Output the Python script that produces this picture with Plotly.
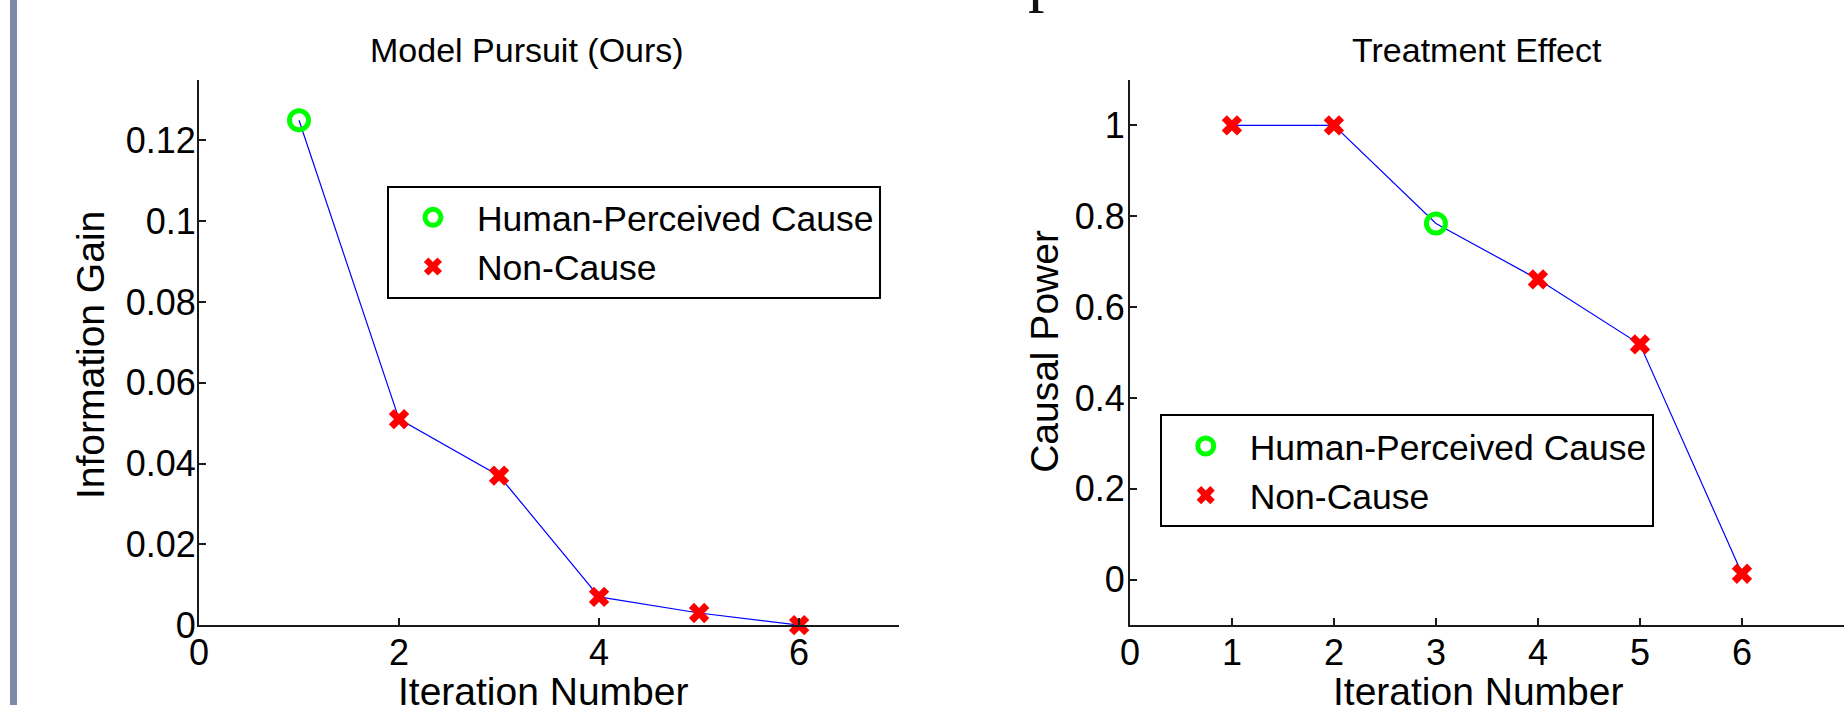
import plotly.graph_objects as go

# ---------------- data ----------------
iterations = [1, 2, 3, 4, 5, 6]
info_gain = [0.125, 0.051, 0.037, 0.007, 0.003, 0.0]
causal_power = [1.0, 1.0, 0.784, 0.661, 0.518, 0.013]
cause_iter_left = [1]      # human-perceived cause (Model Pursuit)
cause_iter_right = [3]     # human-perceived cause (Treatment Effect)
left_yticks = [0, 0.02, 0.04, 0.06, 0.08, 0.1, 0.12]
left_yticklabels = ["0", "0.02", "0.04", "0.06", "0.08", "0.1", "0.12"]
left_xticks = [0, 2, 4, 6]
right_yticks = [0, 0.2, 0.4, 0.6, 0.8, 1]
right_yticklabels = ["0", "0.2", "0.4", "0.6", "0.8", "1"]
right_xticks = [0, 1, 2, 3, 4, 5, 6, 7]
legend_names = ["Human-Perceived Cause", "Non-Cause"]
titles = ["Model Pursuit (Ours)", "Treatment Effect"]
xlabel = "Iteration Number"
ylabels = ["Information Gain", "Causal Power"]

# target picture is 1844 x 706; the captured page is 1844 x 726 tall
TW, TH = 1844, 706
FW, FH = 1844, 726
FONT = "Liberation Sans, Arial, Helvetica, sans-serif"
GREEN = "#00ff00"
RED = "#ff0000"
BLUE = "#0000ff"
AX = "#1a1a1a"


def px(x):
    """target picture x -> paper fraction"""
    return x / TW


def py(y):
    """target picture y -> paper fraction"""
    return 1 - y / TH


fig = go.Figure()


def add_panel(xs, ys, cause_iters, xa, ya, legend):
    fig.add_trace(go.Scatter(x=xs, y=ys, mode="lines", line=dict(color=BLUE, width=1.2),
                             xaxis=xa, yaxis=ya, showlegend=False, hoverinfo="skip"))
    cx = [x for x in xs if x in cause_iters]
    cy = [y for x, y in zip(xs, ys) if x in cause_iters]
    nx = [x for x in xs if x not in cause_iters]
    ny = [y for x, y in zip(xs, ys) if x not in cause_iters]
    fig.add_trace(go.Scatter(x=cx, y=cy, mode="markers", name=legend_names[0],
                             marker=dict(symbol="circle-open", size=19, color=GREEN,
                                         line=dict(color=GREEN, width=5)),
                             xaxis=xa, yaxis=ya, legend=legend, cliponaxis=False))
    fig.add_trace(go.Scatter(x=nx, y=ny, mode="markers", name=legend_names[1],
                             marker=dict(symbol="x", size=18, color=RED, line=dict(width=0)),
                             xaxis=xa, yaxis=ya, legend=legend, cliponaxis=False))


add_panel(iterations, info_gain, cause_iter_left, "x", "y", "legend")
add_panel(iterations, causal_power, cause_iter_right, "x2", "y2", "legend2")

ydom = [py(626), py(80)]
axis_common = dict(showline=True, linecolor=AX, linewidth=2, ticks="inside", ticklen=7,
                   tickwidth=1.5, tickcolor=AX, showgrid=False, zeroline=False,
                   tickfont=dict(family=FONT, size=36, color="black"))

legend_common = dict(xanchor="left", yanchor="top", bgcolor="white", bordercolor="black",
                     borderwidth=2, font=dict(family=FONT, size=35.5, color="black"),
                     itemwidth=78, tracegroupgap=0)

fig.update_layout(
    width=FW, height=FH,
    margin=dict(l=0, r=0, t=0, b=0),
    paper_bgcolor="white", plot_bgcolor="white",
    font=dict(family=FONT, color="black"),
    xaxis=dict(domain=[px(190), px(894)], range=[0, 7], tickvals=left_xticks,
               anchor="y", ticklabelstandoff=-5, **axis_common),
    yaxis=dict(domain=ydom, range=[0, 0.135], tickvals=left_yticks,
               ticktext=left_yticklabels, anchor="x", ticklabelstandoff=-6, **axis_common),
    xaxis2=dict(domain=[px(1126), 1.0], range=[0, 7], tickvals=right_xticks,
                anchor="y2", ticklabelstandoff=-5, **axis_common),
    yaxis2=dict(domain=ydom, range=[-0.1, 1.1], tickvals=right_yticks,
                ticktext=right_yticklabels, anchor="x2", ticklabelstandoff=-4, **axis_common),
    legend=dict(x=px(379), y=py(186), **legend_common),
    legend2=dict(x=px(1156), y=py(415), **legend_common),
    showlegend=True,
)

annotations = [
    dict(text=titles[0], x=px(520), y=py(50), font=dict(size=34)),
    dict(text=titles[1], x=px(1475), y=py(50), font=dict(size=34)),
    dict(text=xlabel, x=px(536), y=py(692), font=dict(size=39)),
    dict(text=xlabel, x=px(1476), y=py(692), font=dict(size=39)),
    dict(text=ylabels[0], x=px(81), y=py(356), font=dict(size=39), textangle=-90),
    dict(text=ylabels[1], x=px(1040), y=py(352), font=dict(size=39), textangle=-90),
]
for a in annotations:
    a.update(xref="paper", yref="paper", showarrow=False, xanchor="center", yanchor="middle")
    a["font"].update(family=FONT, color="black")
# cropped slide-title glyph at the top edge
annotations.append(dict(text="p", xref="paper", yref="paper", x=px(1040), y=1.0,
                        xanchor="center", yanchor="bottom", yshift=-15, showarrow=False,
                        font=dict(family="Liberation Serif, DejaVu Serif, serif", size=66,
                                  color="#111111")))
fig.update_layout(annotations=annotations)

# grey slide border strip at the left edge
fig.add_shape(type="rect", xref="paper", yref="paper", x0=0, x1=px(7), y0=0, y1=1,
              fillcolor="#7b8aa6", line=dict(width=0), layer="above")

fig.write_html(
    "out.html",
    config={"displayModeBar": False},
    post_script="document.body.style.margin='0px';document.body.style.padding='0px';"
                "document.documentElement.style.overflow='hidden';",
)
